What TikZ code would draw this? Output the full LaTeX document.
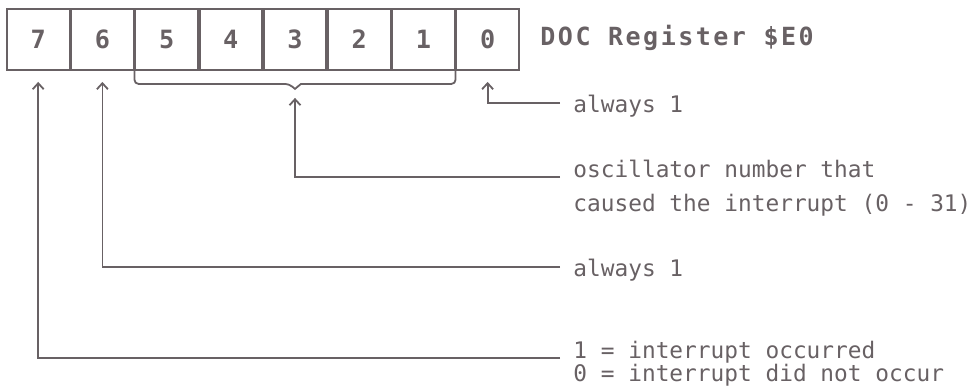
\documentclass[tikz,border=0pt]{standalone}
\usepackage{fontspec}
\usetikzlibrary{arrows.meta, positioning}
\newfontfamily\lblfont{DejaVu Sans Mono}
\newfontfamily\ttlfont{DejaVu Sans Mono Bold}[LetterSpace=10]
\definecolor{ink}{RGB}{104,97,100}

\begin{document}
\begin{tikzpicture}[x=0.5pt, y=-0.5pt,
    bitbox/.style={rectangle, draw=ink, line width=0.9pt, minimum width=31.2pt, minimum height=30.5pt, inner sep=0pt, text=ink, font=\ttlfont\fontsize{12.6}{13}\selectfont},
    lbl/.style={anchor=base west, inner xsep=6.5pt, inner ysep=0pt, text depth=0pt, text=ink, font=\lblfont\fontsize{11.4}{13}\selectfont},
    arrow/.style={draw=ink, line width=0.9pt, -{Straight Barb[length=3pt,width=5.5pt]}},
    brace/.style={draw=ink, line width=0.9pt, rounded corners=2pt}]
    \useasboundingbox (0,0) rectangle (975,387);
    % register bits
    \node [bitbox] (b7) at (38.2,39.5) {7};
    \node [bitbox, right=0pt of b7] (b6) {6};
    \node [bitbox, right=0pt of b6] (b5) {5};
    \node [bitbox, right=0pt of b5] (b4) {4};
    \node [bitbox, right=0pt of b4] (b3) {3};
    \node [bitbox, right=0pt of b3] (b2) {2};
    \node [bitbox, right=0pt of b2] (b1) {1};
    \node [bitbox, right=0pt of b1] (b0) {0};
    \node [lbl, inner xsep=0pt, font=\ttlfont\fontsize{12.5}{13}\selectfont] (title) at (540,45) {DOC Register \$E0};
    % descriptions
    \node [lbl] (always0) at (560,112) {always 1};
    \node [lbl] (osc) at (560,177) {oscillator number that};
    \node [lbl] (osc2) at (560,211) {caused the interrupt (0 - 31)};
    \node [lbl] (always6) at (560,276) {always 1};
    \node [lbl] (irq) at (560,358) {1 = interrupt occurred};
    \node [lbl] (irq2) at (560,381) {0 = interrupt did not occur};
    % brace under bits 5-1
    \draw [brace] (b5.south west) -- ([yshift=-6.5pt]b5.south west) -- ([xshift=-3pt,yshift=-6.5pt]b3.south)
        [sharp corners] -- ([yshift=-9pt]b3.south) -- ([xshift=3pt,yshift=-6.5pt]b3.south)
        [rounded corners=2pt] -- ([yshift=-6.5pt]b1.south east) -- (b1.south east);
    \draw [arrow] (always0.west) -| ([yshift=-5.5pt]b0.south);
    \draw [arrow] (osc.base west) -| ([yshift=-13.5pt]b3.south);
    \draw [arrow] (always6.west) -| ([yshift=-5.5pt]b6.south);
    \draw [arrow] (irq.base west) -| ([yshift=-5.5pt]b7.south);
\end{tikzpicture}
\end{document}
